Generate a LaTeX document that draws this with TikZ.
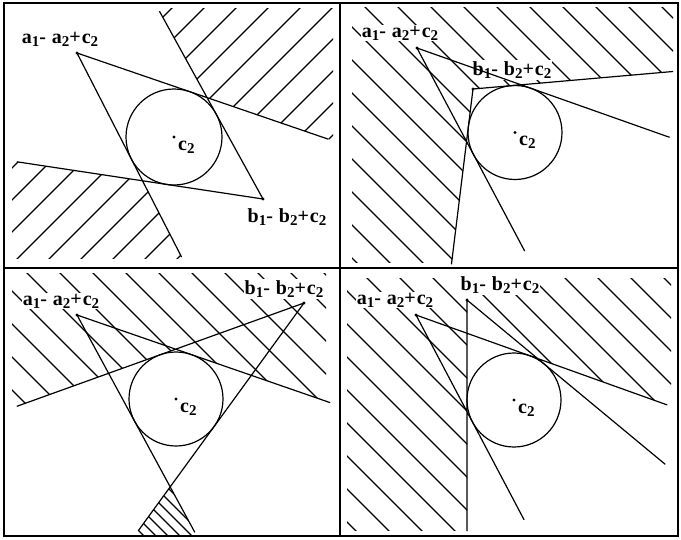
\documentclass[tikz,border=0pt]{standalone}
\usepackage{fontspec}
\setmainfont{Liberation Serif}
\usetikzlibrary{calc}
\usetikzlibrary{positioning}

\newcommand{\lowidx}[1]{\raisebox{-0.35ex}{\fontsize{15}{15}\selectfont #1}}
\newcommand{\difflbl}[1]{#1\lowidx{1}- #1\lowidx{2}+c\lowidx{2}}

\begin{document}
\begin{tikzpicture}[x=1pt,y=-1pt,
	frame/.style={line width=1.8pt},
	tline/.style={line width=1.2pt},
	hatchline/.style={line width=1.1pt},
	lbl/.style={font=\fontsize{20}{20}\bfseries\selectfont\addfontfeature{LetterSpace=5},inner sep=1pt,fill=white},
	cname/.style={font=\fontsize{20}{20}\bfseries\selectfont,inner sep=0pt,anchor=base west},
	disk/.style={circle,draw,line width=1.2pt,inner sep=0pt,outer sep=0pt,minimum size=#1},
	dotmark/.style={circle,fill,inner sep=0pt,minimum size=3.2pt}]
	\useasboundingbox (0,0) rectangle (681,539);

	% top left
	\begin{scope}
		\node[disk=96pt] (c1) at (174,137) {};
		\coordinate (a1) at (77,53);
		\coordinate (b1) at (263,199);
		\coordinate (ta1p) at (tangent cs:node=c1,point={(a1)},solution=2);
		\coordinate (ta1m) at (tangent cs:node=c1,point={(a1)},solution=1);
		\coordinate (tb1p) at (tangent cs:node=c1,point={(b1)},solution=2);
		\coordinate (tb1m) at (tangent cs:node=c1,point={(b1)},solution=1);
		\coordinate (ea1p) at ($(a1)!265.6pt!(ta1p)$);
		\coordinate (ea1m) at ($(a1)!229.4pt!(ta1m)$);
		\coordinate (eb1p) at ($(b1)!249pt!(tb1p)$);
		\coordinate (eb1m) at ($(b1)!214.5pt!(tb1m)$);
		\begin{scope}
			\clip (12,8) rectangle (333,258);
			\clip (intersection of a1--ea1p and b1--eb1m) -- ($(b1)!1.7!(eb1m)$) -- (420,-100) -- ($(a1)!1.7!(ea1p)$) -- cycle;
			\foreach \k in {20,52,...,596}
				\draw[hatchline] (\k-400,400) -- (\k+400,-400);
		\end{scope}
		\begin{scope}
			\clip (12,8) rectangle (333,258);
			\clip (intersection of a1--ea1m and b1--eb1p) -- ($(b1)!1.7!(eb1p)$) -- (-100,420) -- ($(a1)!1.7!(ea1m)$) -- cycle;
			\foreach \k in {20,52,...,596}
				\draw[hatchline] (\k-400,400) -- (\k+400,-400);
		\end{scope}
		\node[lbl] (la1) at (60,39) {\difflbl{a}};
		\node[lbl] (lb1) at (287,217) {\difflbl{b}};
		\node[cname] (lc1) at ($(c1.center)+(4,13)$) {c\lowidx{2}};
		\draw[tline] (a1) -- (ea1p) (a1) -- (ea1m) (b1) -- (eb1p) (b1) -- (eb1m);
		\node[dotmark] at (a1) {};
		\node[dotmark] at (b1) {};
		\node[dotmark] at (c1.center) {};
	\end{scope}

	% top right
	\begin{scope}[shift={(340,0)}]
		\node[disk=94pt] (c2) at (175,132.5) {};
		\coordinate (a2) at (77,48);
		\coordinate (b2) at (133,89);
		\coordinate (ta2p) at (tangent cs:node=c2,point={(a2)},solution=2);
		\coordinate (ta2m) at (tangent cs:node=c2,point={(a2)},solution=1);
		\coordinate (tb2p) at (tangent cs:node=c2,point={(b2)},solution=2);
		\coordinate (tb2m) at (tangent cs:node=c2,point={(b2)},solution=1);
		\coordinate (ea2p) at ($(a2)!267.9pt!(ta2p)$);
		\coordinate (ea2m) at ($(a2)!229.9pt!(ta2m)$);
		\coordinate (eb2p) at ($(b2)!200.8pt!(tb2p)$);
		\coordinate (eb2m) at ($(b2)!176.6pt!(tb2m)$);
		\begin{scope}
			\clip (12,7) rectangle (333,262);
			\clip (b2) -- ($(b2)!4!(eb2p)$) -- (700,-100) -- (-100,-100) -- (-100,700) -- ($(b2)!4!(eb2m)$) -- cycle;
			\foreach \k in {-279,-246,...,348}
				\draw[hatchline] (\k-400,-400) -- (\k+400,400);
		\end{scope}
		\node[lbl] (la2) at (60,33) {\difflbl{a}};
		\node[lbl] (lb2) at (172,70) {\difflbl{b}};
		\node[cname] (lc2) at ($(c2.center)+(4,13)$) {c\lowidx{2}};
		\draw[tline] (a2) -- (ea2p) (a2) -- (ea2m) (b2) -- (eb2p) (b2) -- (eb2m);
		\node[dotmark] at (a2) {};
		\node[dotmark] at (b2) {};
		\node[dotmark] at (c2.center) {};
	\end{scope}

	% bottom left
	\begin{scope}[shift={(0,268)}]
		\node[disk=94pt] (c3) at (176,131) {};
		\coordinate (a3) at (77,47);
		\coordinate (b3) at (304,35);
		\coordinate (ta3p) at (tangent cs:node=c3,point={(a3)},solution=2);
		\coordinate (ta3m) at (tangent cs:node=c3,point={(a3)},solution=1);
		\coordinate (tb3p) at (tangent cs:node=c3,point={(b3)},solution=2);
		\coordinate (tb3m) at (tangent cs:node=c3,point={(b3)},solution=1);
		\coordinate (ea3p) at ($(a3)!267.9pt!(ta3p)$);
		\coordinate (ea3m) at ($(a3)!247.3pt!(ta3m)$);
		\coordinate (eb3p) at ($(b3)!281.8pt!(tb3p)$);
		\coordinate (eb3m) at ($(b3)!305.2pt!(tb3m)$);
		\begin{scope}
			\clip (12,5) rectangle (326,262);
			\clip ($(b3)!1.6!(eb3m)$) -- (intersection of a3--ea3p and b3--eb3m) -- ($(a3)!1.6!(ea3p)$) -- (650,-100) -- (-100,-100) -- cycle;
			\foreach \k in {-275,-242,...,352}
				\draw[hatchline] (\k-400,-400) -- (\k+400,400);
		\end{scope}
		\begin{scope}
			\clip (0,0) rectangle (340,268);
			\clip (intersection of a3--ea3m and b3--eb3p) -- ($(a3)!1.6!(ea3m)$) -- ($(b3)!1.6!(eb3p)$) -- cycle;
			\foreach \k in {-160,-148,...,-40}
				\draw[hatchline] (\k-400,-400) -- (\k+400,400);
		\end{scope}
		\node[lbl] (la3) at (61,33) {\difflbl{a}};
		\node[lbl] (lb3) at (284,21) {\difflbl{b}};
		\node[cname] (lc3) at ($(c3.center)+(4,13)$) {c\lowidx{2}};
		\draw[tline] (a3) -- (ea3p) (a3) -- (ea3m) (b3) -- (eb3p) (b3) -- (eb3m);
		\node[dotmark] at (a3) {};
		\node[dotmark] at (b3) {};
		\node[dotmark] at (c3.center) {};
	\end{scope}

	% bottom right
	\begin{scope}[shift={(340,268)}]
		\node[disk=94pt] (c4) at (174,132) {};
		\coordinate (a4) at (76,47);
		\coordinate (b4) at (127,32);
		\coordinate (ta4p) at (tangent cs:node=c4,point={(a4)},solution=2);
		\coordinate (ta4m) at (tangent cs:node=c4,point={(a4)},solution=1);
		\coordinate (tb4p) at (tangent cs:node=c4,point={(b4)},solution=2);
		\coordinate (tb4m) at (tangent cs:node=c4,point={(b4)},solution=1);
		\coordinate (ea4p) at ($(a4)!266.9pt!(ta4p)$);
		\coordinate (ea4m) at ($(a4)!231.7pt!(ta4m)$);
		\coordinate (eb4p) at ($(b4)!257.5pt!(tb4p)$);
		\coordinate (eb4m) at ($(b4)!231pt!(tb4m)$);
		\begin{scope}
			\clip (7,10) rectangle (331,262);
			\clip (b4) -- (intersection of a4--ea4p and b4--eb4p) -- ($(a4)!1.6!(ea4p)$) -- (900,-100) -- (-100,-100) -- (-100,800) -- ($(b4)!4!(eb4m)$) -- cycle;
			\foreach \k in {-280,-247,...,347}
				\draw[hatchline] (\k-400,-400) -- (\k+400,400);
		\end{scope}
		\node[lbl] (la4) at (55,32) {\difflbl{a}};
		\node[lbl] (lb4) at (160,17) {\difflbl{b}};
		\node[cname] (lc4) at ($(c4.center)+(4,13)$) {c\lowidx{2}};
		\draw[tline] (a4) -- (ea4p) (a4) -- (ea4m) (b4) -- (eb4p) (b4) -- (eb4m);
		\node[dotmark] at (a4) {};
		\node[dotmark] at (b4) {};
		\node[dotmark] at (c4.center) {};
	\end{scope}

	% frame
	\draw[frame] (4,3) rectangle (678,536);
	\draw[line width=1.4pt] (340,3) -- (340,536) (4,268) -- (678,268);
\end{tikzpicture}
\end{document}
